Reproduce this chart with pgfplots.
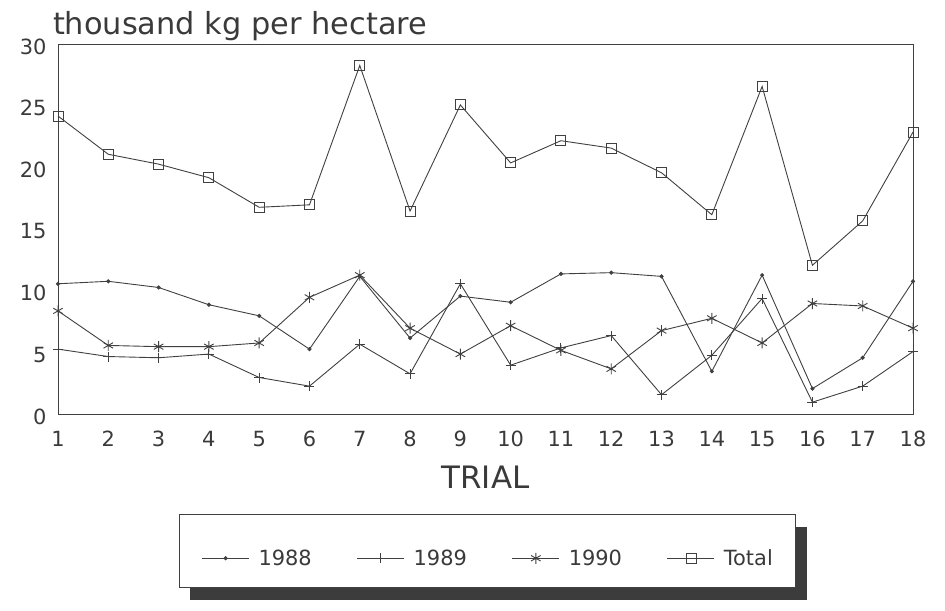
\documentclass[border=0pt]{standalone}
\usepackage{fontspec}
\setmainfont{DejaVu Sans}
\usepackage{pgfplots}
\pgfplotsset{compat=1.18}
\pgfdeclarelayer{background}
\pgfsetlayers{background,main}
\definecolor{ink}{HTML}{3A3A3A}
\definecolor{ln}{HTML}{404040}
\definecolor{shadowc}{HTML}{3C3C3C}

\begin{document}
\begin{tikzpicture}
\path[use as bounding box] (-58bp,-196.5bp) rectangle (887bp,414.5bp);
\begin{axis}[
 at={(0,0)}, anchor=south west,
 scale only axis, width=855bp, height=370bp,
 xmin=1, xmax=18, ymin=0, ymax=30,
 xtick={1,...,18}, ytick={0,5,...,30},
 major tick length=0pt,
 clip=false,
 axis line style={ln, line width=0.8bp},
 tick label style={font=\fontsize{21}{24}\selectfont, text=ink},
 /pgf/number format/assume math mode=true,
 xticklabel style={yshift=-13bp},
 yticklabel style={xshift=-8bp, yshift=-2bp},
 xlabel={TRIAL},
 xlabel style={at={(axis description cs:0.5,-0.2)}, anchor=base, font=\fontsize{31}{36}\selectfont, text=ink},
 title={thousand kg per hectare},
 title style={at={(axis description cs:-0.006,1.027)}, anchor=base west, yshift=-6bp, font=\fontsize{30.5}{34}\selectfont, text=ink, inner sep=0pt},
 legend columns=4,
 legend style={name=leg, at={(axis description cs:0.502,-0.27)}, anchor=north, draw=ln, fill=white, line width=0.8bp,
   inner xsep=22.5bp, inner ysep=20bp, font=\fontsize{21}{24}\selectfont, text=ink,
   /tikz/every even column/.append style={column sep=45bp},
   nodes={inner xsep=0bp, inner ysep=0bp}},
 legend image code/.code={\draw[mark repeat=2,mark phase=2,#1] plot coordinates {(0bp,0bp) (23.5bp,0bp) (47bp,0bp)}; \path (56bp,0bp) (0bp,23bp);},
]
\addplot[ln, line width=0.9bp, mark=*, mark size=1.6bp] coordinates {
 (1,10.6) (2,10.8) (3,10.3) (4,8.9) (5,8.0) (6,5.3) (7,11.2) (8,6.2) (9,9.6)
 (10,9.1) (11,11.4) (12,11.5) (13,11.2) (14,3.5) (15,11.3) (16,2.1) (17,4.6) (18,10.8)};
\addlegendentry{1988}
\addplot[ln, line width=0.9bp, mark=+, mark size=5bp] coordinates {
 (1,5.3) (2,4.7) (3,4.6) (4,4.9) (5,3.0) (6,2.3) (7,5.7) (8,3.3) (9,10.6)
 (10,4.0) (11,5.4) (12,6.4) (13,1.6) (14,4.8) (15,9.4) (16,1.0) (17,2.3) (18,5.1)};
\addlegendentry{1989}
\addplot[ln, line width=0.9bp, mark=asterisk, mark size=5.5bp] coordinates {
 (1,8.4) (2,5.6) (3,5.5) (4,5.5) (5,5.8) (6,9.5) (7,11.3) (8,7.0) (9,4.9)
 (10,7.2) (11,5.2) (12,3.7) (13,6.8) (14,7.8) (15,5.8) (16,9.0) (17,8.8) (18,7.0)};
\addlegendentry{1990}
\addplot[ln, line width=0.9bp, mark=square, mark size=5bp] coordinates {
 (1,24.2) (2,21.1) (3,20.3) (4,19.2) (5,16.8) (6,17.0) (7,28.3) (8,16.5) (9,25.1)
 (10,20.4) (11,22.2) (12,21.6) (13,19.6) (14,16.2) (15,26.6) (16,12.1) (17,15.7) (18,22.9)};
\addlegendentry{Total}
\end{axis}
\begin{pgfonlayer}{background}
\fill[shadowc] ([xshift=11bp,yshift=-13bp]leg.south west) rectangle ([xshift=11bp,yshift=-13bp]leg.north east);
\end{pgfonlayer}
\end{tikzpicture}
\end{document}
